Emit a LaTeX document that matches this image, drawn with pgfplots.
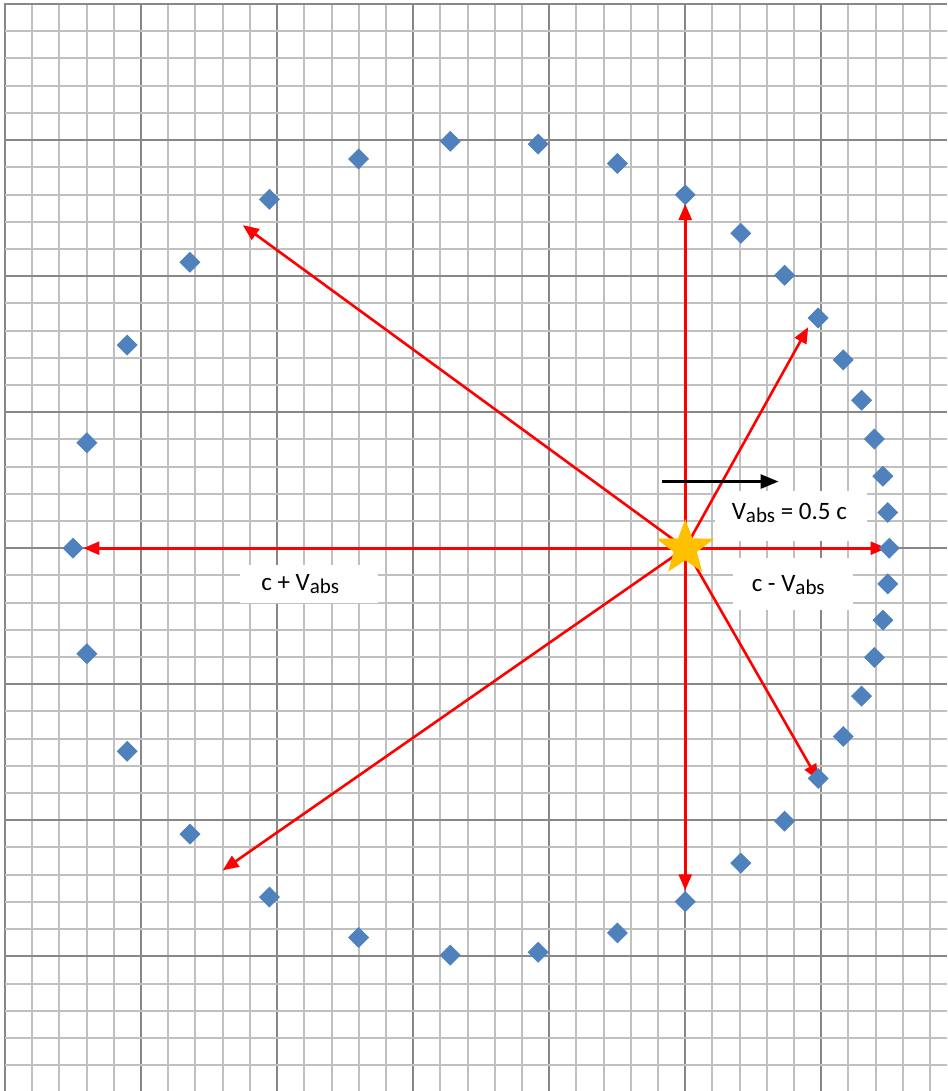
\documentclass[border=0pt]{standalone}
\usepackage{pgfplots}
\pgfplotsset{compat=1.18}
\usetikzlibrary{arrows.meta}
\usepackage{fontspec}
\setmainfont{Carlito}
\definecolor{mkblue}{HTML}{4F81BD}
\definecolor{stargold}{HTML}{FFC000}
\definecolor{minorg}{HTML}{C0C0C0}
\definecolor{majorg}{HTML}{888888}
\pgfdeclareplotmark{bigstar}{%
  \pgfpathmoveto{\pgfpointpolar{90}{\pgfplotmarksize}}%
  \pgfpathlineto{\pgfpointpolar{126}{0.42*\pgfplotmarksize}}%
  \pgfpathlineto{\pgfpointpolar{162}{1.05*\pgfplotmarksize}}%
  \pgfpathlineto{\pgfpointpolar{198}{0.42*\pgfplotmarksize}}%
  \pgfpathlineto{\pgfpointpolar{234}{\pgfplotmarksize}}%
  \pgfpathlineto{\pgfpointpolar{270}{0.42*\pgfplotmarksize}}%
  \pgfpathlineto{\pgfpointpolar{306}{\pgfplotmarksize}}%
  \pgfpathlineto{\pgfpointpolar{342}{0.42*\pgfplotmarksize}}%
  \pgfpathlineto{\pgfpointpolar{18}{1.05*\pgfplotmarksize}}%
  \pgfpathlineto{\pgfpointpolar{54}{0.42*\pgfplotmarksize}}%
  \pgfpathclose
  \pgfusepathqfill
}
\newcommand{\sub}[1]{\raisebox{-0.3ex}{\fontsize{10.5}{11}\selectfont #1}}
\begin{document}
\begin{tikzpicture}
\begin{axis}[
  scale only axis, width=471pt, height=544pt,
  xmin=-5, xmax=1.926, ymin=-3.99, ymax=4.01,
  axis line style={draw=none},
  xtick={-5,...,1}, ytick={-3,...,4},
  minor xtick={-4.8,-4.6,...,1.81}, minor ytick={-3.8,-3.6,...,3.81},
  grid=both,
  major grid style={majorg, line width=1pt},
  minor grid style={minorg, line width=1pt},
  major tick length=0pt, minor tick length=0pt,
  xticklabels={}, yticklabels={},
]
\node[fill=white, minimum width=69pt, minimum height=19pt, inner sep=0pt] at (axis cs:-2.765,-0.265) {};
\node[font=\fontsize{12.5}{14}\selectfont, inner sep=0pt] at (axis cs:-2.83,-0.265) {c + V\sub{abs}};
\node[fill=white, minimum width=76pt, minimum height=25pt, inner sep=0pt] at (axis cs:0.779,0.24) {};
\node[font=\fontsize{12.5}{14}\selectfont, inner sep=0pt] at (axis cs:0.765,0.26) {V\sub{abs} = 0.5 c};
\node[fill=white, minimum width=60pt, minimum height=26pt, inner sep=0pt] at (axis cs:0.79,-0.26) {};
\node[font=\fontsize{12.5}{14}\selectfont, inner sep=0pt] at (axis cs:0.757,-0.272) {c - V\sub{abs}};

\addplot[red, line width=1.3pt, -{Triangle[length=8pt,width=6.5pt]}] coordinates {(0,0) (0,2.53)};
\addplot[red, line width=1.3pt, -{Triangle[length=8pt,width=6.5pt]}] coordinates {(0,0) (0.904,1.625)};
\addplot[red, line width=1.3pt, -{Triangle[length=8pt,width=6.5pt]}] coordinates {(0,0) (1.48,0)};
\addplot[red, line width=1.3pt, -{Triangle[length=8pt,width=6.5pt]}] coordinates {(0,0) (0.978,-1.706)};
\addplot[red, line width=1.3pt, -{Triangle[length=8pt,width=6.5pt]}] coordinates {(0,0) (0,-2.515)};
\addplot[red, line width=1.3pt, -{Triangle[length=8pt,width=6.5pt]}] coordinates {(0,0) (-3.40,-2.368)};
\addplot[red, line width=1.3pt, -{Triangle[length=8pt,width=6.5pt]}] coordinates {(0,0) (-3.252,2.375)};
\addplot[red, line width=1.3pt, -{Triangle[length=8pt,width=6.5pt]}] coordinates {(0,0) (-4.424,0)};

\addplot[black, line width=1.3pt, -{Triangle[length=9pt,width=7pt]}] coordinates {(-0.171,0.49) (0.686,0.49)};

\addplot[only marks, mark=square*, mark size=3.5pt,
  mark options={rotate=45, fill=mkblue, draw=mkblue}] coordinates {
(1.5,0) (1.4885,0.2625) (1.4530,0.5289) (1.3906,0.8029) (1.2960,1.0875)
(1.1615,1.3843) (0.9771,1.6924) (0.7303,2.0065) (0.4082,2.3149) (0,2.5981)
(-0.4987,2.8280) (-1.0812,2.9706) (-1.7271,2.9914) (-2.4011,2.8615) (-3.0564,2.5647)
(-3.6406,2.1019) (-4.1021,1.4930) (-4.3980,0.7755) (-4.5,0)
(-4.3980,-0.7755) (-4.1021,-1.4930) (-3.6406,-2.1019) (-3.0564,-2.5647) (-2.4011,-2.8615)
(-1.7271,-2.9914) (-1.0812,-2.9706) (-0.4987,-2.8280) (0,-2.5981) (0.4082,-2.3149)
(0.7303,-2.0065) (0.9771,-1.6924) (1.1615,-1.3843) (1.2960,-1.0875) (1.3906,-0.8029)
(1.4530,-0.5289) (1.4885,-0.2625)
};

\addplot[only marks, mark=bigstar, mark size=14.5pt,
  mark options={fill=stargold, draw=stargold}] coordinates {(0,0)};
\end{axis}
\pgfresetboundingbox
\path ([xshift=-2.5pt]current axis.south west) rectangle ([yshift=1.35pt]current axis.north east);
\end{tikzpicture}
\end{document}
